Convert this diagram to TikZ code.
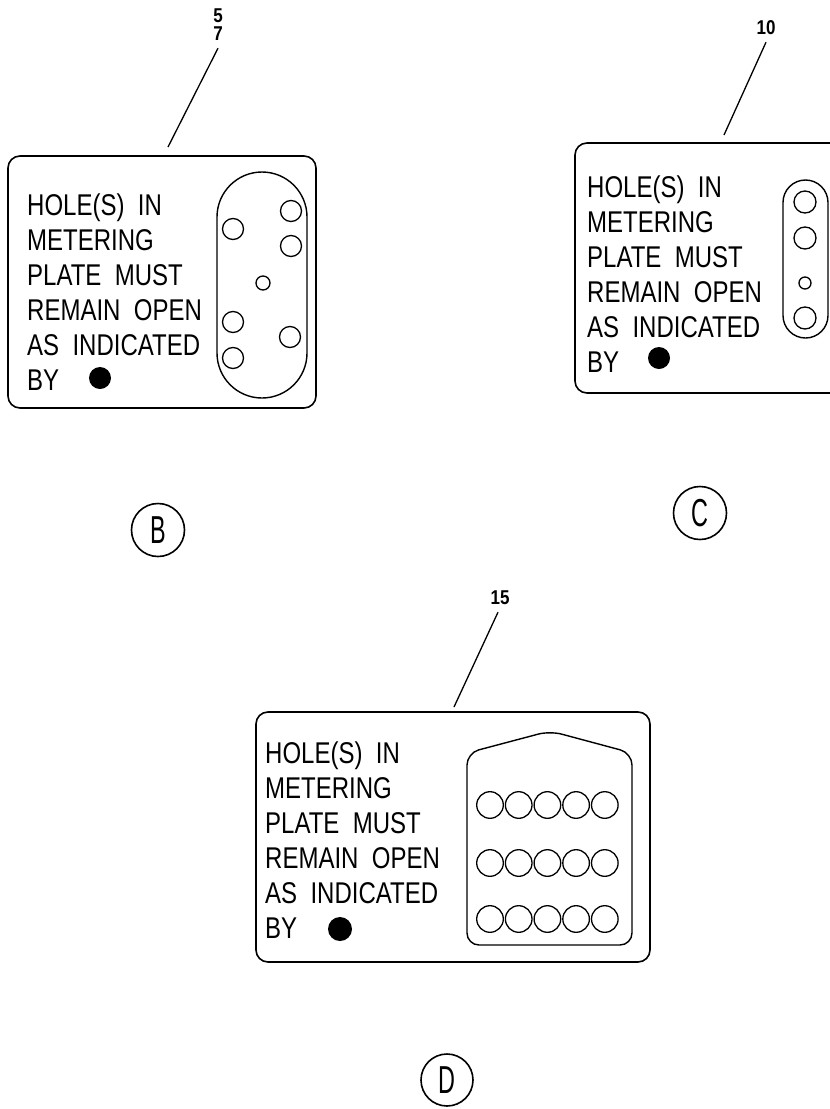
\documentclass[tikz,border=0pt]{standalone}
\usepackage{fontspec}
\setmainfont{Liberation Sans}
\newfontfamily\platefont[FakeStretch=0.8, WordSpace=2]{Liberation Sans}
\newfontfamily\callfont[FakeStretch=0.85]{Liberation Sans}
\newfontfamily\viewfont[FakeStretch=0.6]{Liberation Sans}

\begin{document}
\begin{tikzpicture}[
        x=1pt, y=-1pt,
        plate/.style={draw, line width=1.6pt, rounded corners=12pt},
        slot/.style={draw, line width=1.4pt},
        hole/.style={draw, line width=1.3pt},
        platetext/.style={anchor=west, align=left, inner sep=0pt,
            font=\platefont\fontsize{30}{35}\selectfont},
        callout/.style={inner sep=0pt, text height=14pt, text depth=0pt,
            font=\callfont\bfseries\fontsize{20}{20}\selectfont},
        leader/.style={line width=1.3pt},
        dotmark/.style={circle, fill=black, inner sep=0pt, minimum size=22pt},
        viewlabel/.style={circle, draw, line width=1.6pt, minimum size=53pt, inner sep=0pt,
            font=\viewfont\fontsize{39}{39}\selectfont}
    ]
        \useasboundingbox (0,0) rectangle (830,1109);
        \clip (0,0) rectangle (830,1109);

        % view B
        \draw[plate] (8,156) rectangle (316,408);
        \node[platetext] (txtB) at (27,292)
            {HOLE(S) IN\\METERING\\PLATE MUST\\REMAIN OPEN\\AS INDICATED\\BY};
        \node[dotmark] (dotB) at (100,378) {};
        \draw[slot, rounded corners=45pt] (217,172) rectangle (307,398);
        \foreach \hx/\hy in {233/229, 291/211, 291/246, 233/322, 290/337, 233/358}
            \draw[hole] (\hx,\hy) circle (10.5pt);
        \draw[hole] (263,283) circle (7pt);
        \node[callout] (lbl5) at (218,15) {5};
        \node[callout] (lbl7) at (218,33) {7};
        \coordinate (tipB) at (168,147);
        \draw[leader] (lbl7.south) ++(0,8) -- (tipB);
        \node[viewlabel] (viewB) at (158,530) {B};

        % view C
        \draw[plate] (575,143) rectangle (850,393);
        \node[platetext] (txtC) at (587,274)
            {HOLE(S) IN\\METERING\\PLATE MUST\\REMAIN OPEN\\AS INDICATED\\BY};
        \node[dotmark] (dotC) at (659,358) {};
        \draw[slot, rounded corners=22.5pt] (783,180) rectangle (828,338);
        \foreach \hy in {202, 238, 318}
            \draw[hole] (805,\hy) circle (11pt);
        \draw[hole] (805,283) circle (6pt);
        \node[callout] (lbl10) at (766,27) {10};
        \coordinate (tipC) at (724,135);
        \draw[leader] (lbl10.south) ++(0,8) -- (tipC);
        \node[viewlabel] (viewC) at (700,513) {C};

        % view D
        \draw[plate] (256,712) rectangle (650,962);
        \node[platetext] (txtD) at (265,840)
            {HOLE(S) IN\\METERING\\PLATE MUST\\REMAIN OPEN\\AS INDICATED\\BY};
        \node[dotmark, minimum size=24pt] (dotD) at (340,929) {};
        \draw[slot, rounded corners=12pt] (550,731) -- (467,753) -- (467,945)
            -- (632,945) -- (632,753) -- cycle;
        \foreach \hy in {805, 863, 919}
            \foreach \hx in {490, 518.7, 547.4, 576.1, 604.8}
                \draw[hole] (\hx,\hy) circle (13.3pt);
        \node[callout] (lbl15) at (500,597) {15};
        \coordinate (tipD) at (454,707);
        \draw[leader] (lbl15.south) ++(-2,8) -- (tipD);
        \node[viewlabel, minimum size=52pt] (viewD) at (447,1080) {D};
\end{tikzpicture}
\end{document}
